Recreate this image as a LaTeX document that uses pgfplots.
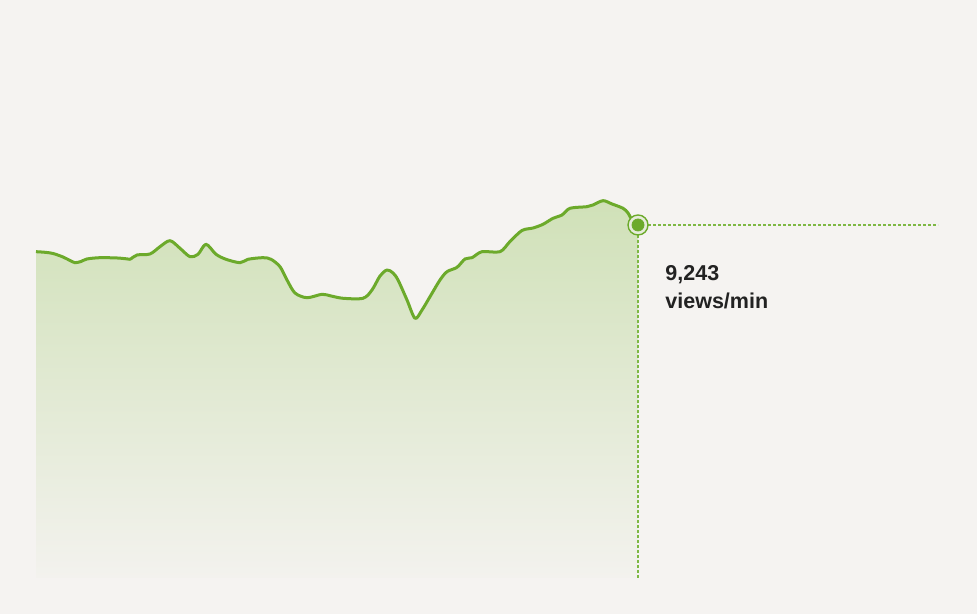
\documentclass[border=0pt]{standalone}
\usepackage{fontspec}
\setmainfont{Liberation Sans}
\usepackage{pgfplots}
\pgfplotsset{compat=1.18}

\definecolor{bg}{HTML}{F5F3F1}
\definecolor{lineGreen}{HTML}{6CAA2B}
\definecolor{dotGreen}{HTML}{7DB843}
\definecolor{fillTop}{HTML}{D0E1B8}
\definecolor{fillBot}{HTML}{F3F2EE}
\definecolor{labelText}{HTML}{222222}

% views/min, sampled along the time axis
\pgfplotstableread{
t    v
36   8544
45   8528
53   8497
63   8405
70   8313
75   8256
81   8287
87   8353
100  8387
117  8379
126  8358
130  8345
137  8457
150  8484
160  8675
170  8832
180  8633
190  8413
198  8476
206  8738
216  8476
226  8345
240  8256
248  8345
263  8387
271  8345
280  8151
287  7803
295  7462
307  7339
322  7428
331  7384
343  7324
363  7324
372  7541
380  7908
387  8065
393  7986
398  7803
407  7279
415  6800
422  7017
430  7366
440  7803
447  8020
457  8135
465  8353
472  8387
482  8544
500  8544
510  8811
522  9099
533  9164
543  9261
553  9418
562  9505
570  9680
587  9722
593  9767
603  9879
612  9793
623  9680
628  9557
633  9329
638  9243
}\views

\begin{document}
\begin{tikzpicture}
\fill[bg] (0,0) rectangle (488.5pt,307pt);
\begin{axis}[
    at={(0,0)}, anchor=south west,
    scale only axis,
    width=488.5pt,
    height=307pt,
    xmin=0, xmax=977,
    ymin=-942.6, ymax=15134,
    hide axis,
    clip=false,
]
% shaded area under the curve
\addplot[draw=none, top color=fillTop, bottom color=fillBot, smooth, tension=0.5]
    table[x=t, y=v] {\views} \closedcycle;
% reference lines at the latest value
\addplot[dotGreen, line width=0.65pt, dash pattern=on 1.3pt off 1.2pt]
    coordinates {(638,9243) (938,9243)};
\addplot[dotGreen, line width=0.65pt, dash pattern=on 1.3pt off 1.2pt]
    coordinates {(638,9243) (638,0)};
% the curve
\addplot[lineGreen, line width=1.5pt, smooth, tension=0.5, line join=round]
    table[x=t, y=v] {\views};
% latest point
\addplot[only marks, mark=*, mark size=5pt,
    mark options={draw=lineGreen, fill=bg!60!fillTop, line width=0.7pt}]
    coordinates {(638,9243)};
\addplot[only marks, mark=*, mark size=3pt,
    mark options={draw=lineGreen, fill=lineGreen}]
    coordinates {(638,9243)};
\node[anchor=base west, inner sep=0pt, text=labelText,
      font=\fontsize{10.75}{13}\selectfont\bfseries]
    at (axis cs:665,7777) {9,243};
\node[anchor=base west, inner sep=0pt, text=labelText,
      font=\fontsize{10.75}{13}\selectfont\bfseries]
    at (axis cs:665,7062) {views/min};
\end{axis}
\pgfresetboundingbox
\path (0,0) rectangle (488.5pt,307pt);
\end{tikzpicture}
\end{document}
